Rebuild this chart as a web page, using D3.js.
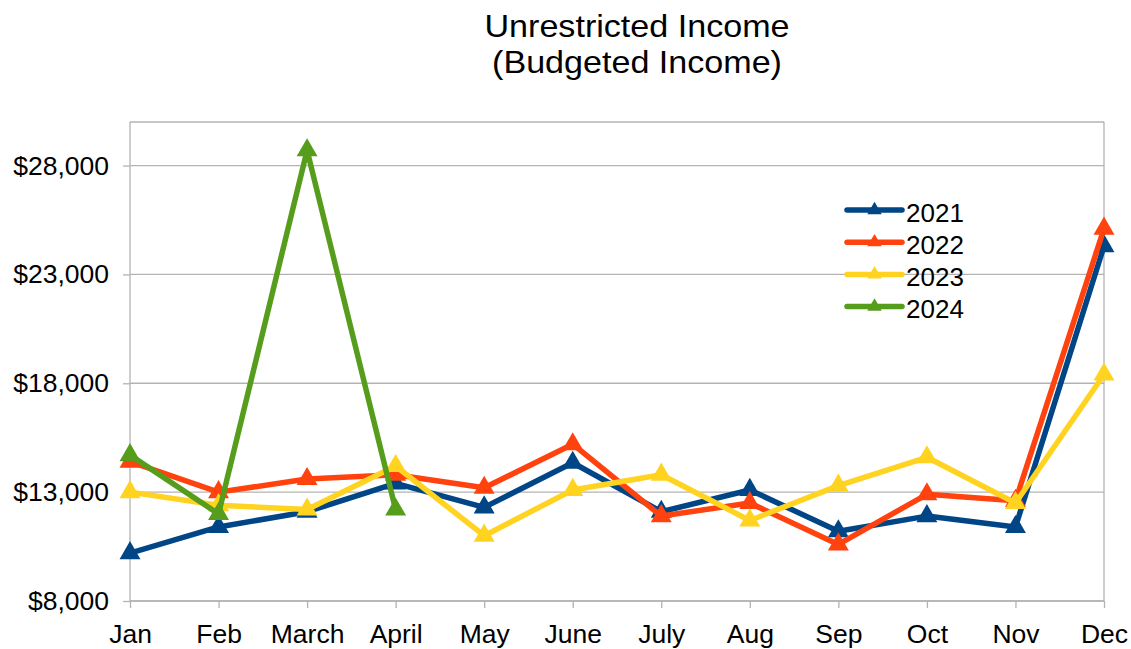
<!DOCTYPE html>
<html>
<head>
<meta charset="utf-8">
<script src="https://cdn.jsdelivr.net/npm/d3@7"></script>
<style>
  body { margin: 0; background: #fff; }
  text { font-family: "Liberation Sans", Arial, sans-serif; fill: #000; }
</style>
</head>
<body>
<div id="chart"></div>
<script>
// chart data
var months = ["Jan", "Feb", "March", "April", "May", "June", "July", "Aug", "Sep", "Oct", "Nov", "Dec"];
var years = ["2021", "2022", "2023", "2024"];
var income2021 = [10200, 11400, 12100, 13400, 12300, 14350, 12100, 13100, 11200, 11900, 11400, 24300];
var income2022 = [14400, 13000, 13600, 13800, 13200, 15200, 11900, 12500, 10600, 12900, 12600, 25100];
var income2023 = [13000, 12400, 12200, 14200, 11000, 13100, 13800, 11700, 13300, 14600, 12500, 18400];
var income2024 = [14700, 12000, 28700, 12200];
var yTicks = [8000, 13000, 18000, 23000, 28000];
var colors = ["#004586", "#ff420e", "#ffd320", "#579d1c"];

var series = [income2021, income2022, income2023, income2024];

var svgWidth = 1131;
var svgHeight = 649;

var margin = { top: 122, right: 27, bottom: 48, left: 130 };
var width = svgWidth - margin.left - margin.right;
var height = svgHeight - margin.top - margin.bottom;

var svg = d3.select("#chart")
  .append("svg")
  .attr("width", svgWidth)
  .attr("height", svgHeight);

// title (the original font runs a little wider, so stretch it)
var title = svg.append("g")
  .attr("transform", "translate(637, 0) scale(1.1, 1)");
title.append("text")
  .attr("y", 37)
  .attr("text-anchor", "middle")
  .attr("font-size", "31px")
  .text("Unrestricted Income");
title.append("text")
  .attr("y", 73)
  .attr("text-anchor", "middle")
  .attr("font-size", "31px")
  .text("(Budgeted Income)");

var chartGroup = svg.append("g")
  .attr("transform", `translate(${margin.left}, ${margin.top})`);

var x = d3.scalePoint()
  .domain(months)
  .range([0, width]);

var y = d3.scaleLinear()
  .domain([8000, 30000])
  .range([height, 0]);

// gridlines
chartGroup.append("g")
  .selectAll("line")
  .data(yTicks.concat([30000]))
  .enter()
  .append("line")
  .attr("x1", 0)
  .attr("x2", width)
  .attr("y1", d => y(d))
  .attr("y2", d => y(d))
  .attr("stroke", "#b3b3b3")
  .attr("stroke-width", 1.3);

// right border
chartGroup.append("line")
  .attr("x1", width).attr("x2", width)
  .attr("y1", 0).attr("y2", height)
  .attr("stroke", "#b3b3b3")
  .attr("stroke-width", 1.3);

// axes
var xAxis = d3.axisBottom(x).tickSize(7).tickPadding(16);
var yAxis = d3.axisLeft(y).tickValues(yTicks).tickSize(7).tickPadding(14)
  .tickFormat(d => "$" + d3.format(",")(d));

var gx = chartGroup.append("g")
  .attr("transform", `translate(0, ${height})`)
  .call(xAxis);
var gy = chartGroup.append("g")
  .call(yAxis);

[gx, gy].forEach(function(g) {
  g.selectAll("path, line").attr("stroke", "#b3b3b3").attr("stroke-width", 1.3);
  g.select(".domain").attr("d", g === gx ? `M0,0H${width}` : `M0,0V${height}`);
  g.selectAll("text").attr("font-size", "26.5px").attr("fill", "#000")
    .style("font-family", '"Liberation Sans", Arial, sans-serif');
});

// lines and markers
var line = d3.line()
  .x((d, i) => x(months[i]))
  .y(d => y(d));

var tri = d3.symbol().type(d3.symbolTriangle).size(190);

series.forEach(function(vals, s) {
  chartGroup.append("path")
    .datum(vals)
    .attr("fill", "none")
    .attr("stroke", colors[s])
    .attr("stroke-width", 5.5)
    .attr("stroke-linejoin", "round")
    .attr("d", line);

  chartGroup.append("g")
    .selectAll("path")
    .data(vals)
    .enter()
    .append("path")
    .attr("transform", (d, i) => `translate(${x(months[i])}, ${y(d)})`)
    .attr("fill", colors[s])
    .attr("d", tri);
});

// legend
var legend = svg.append("g")
  .attr("transform", "translate(847, 210)");

var rows = legend.selectAll("g")
  .data(years)
  .enter()
  .append("g")
  .attr("transform", (d, i) => `translate(0, ${i * 32.2})`);

rows.append("line")
  .attr("x1", 0).attr("x2", 55)
  .attr("stroke", (d, i) => colors[i])
  .attr("stroke-width", 5.5)
  .attr("stroke-linecap", "round");

rows.append("path")
  .attr("transform", "translate(27.5, 0)")
  .attr("fill", (d, i) => colors[i])
  .attr("d", d3.symbol().type(d3.symbolTriangle).size(90));

rows.append("text")
  .attr("x", 59)
  .attr("y", 11.5)
  .attr("font-size", "26px")
  .text(d => d);
</script>
</body>
</html>
